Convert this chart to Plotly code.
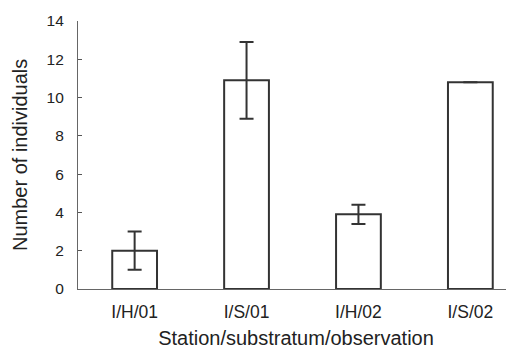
import plotly.graph_objects as go

categories = ["I/H/01", "I/S/01", "I/H/02", "I/S/02"]
values = [2.0, 10.9, 3.9, 10.8]
errors = [1.0, 2.0, 0.5, None]
yticks = [0, 2, 4, 6, 8, 10, 12, 14]

xpos = list(range(len(categories)))
line_col = "#333333"
font = "Liberation Sans, Arial, sans-serif"

fig = go.Figure()
fig.add_trace(go.Bar(
    x=xpos, y=values, width=0.4,
    marker=dict(color="white", line=dict(color=line_col, width=2)),
    error_y=dict(type="data", array=errors, visible=True, color=line_col,
                 thickness=2, width=7),
))

# page body has an 8px default margin, so the figure is sized/offset to compensate
fig.update_layout(
    width=506, height=341,
    margin=dict(l=70, r=0, t=13, b=60),
    plot_bgcolor="white", paper_bgcolor="white",
    showlegend=False,
    font=dict(family=font, color="#222222"),
    xaxis=dict(
        range=[-0.506, 3.39], tickvals=xpos, ticktext=categories,
        showline=True, linecolor="#666666", linewidth=1.2,
        showgrid=False, zeroline=False, ticks="", automargin=False,
        tickfont=dict(size=17.5), ticklabelstandoff=7,
        title=dict(text="Station/substratum/observation", font=dict(size=20), standoff=10),
    ),
    yaxis=dict(
        range=[0, 14], tickvals=yticks,
        showline=True, linecolor="#666666", linewidth=1.2, automargin=False,
        showgrid=False, zeroline=False, ticks="inside", ticklen=4, tickcolor="#555555",
        tickfont=dict(size=15.5), ticklabelstandoff=10,
    ),
    annotations=[dict(
        text="Number of individuals", textangle=-90, showarrow=False,
        xref="paper", yref="paper", x=-0.133, y=0.5,
        xanchor="center", yanchor="middle", font=dict(size=20),
    )],
)

fig.write_html("out.html")
